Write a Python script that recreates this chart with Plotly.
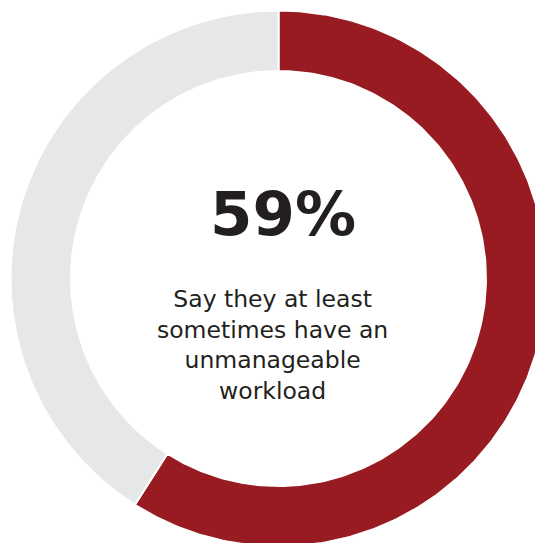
import numpy as np
import plotly.graph_objects as go

labels = ["Unmanageable workload at least sometimes", "Other"]
values = [59, 41]
colors = ["#981b21", "#e6e7e8"]
headline = "59%"
subtext_lines = ["Say they at least", "sometimes have an", "unmanageable", "workload"]

# ring geometry (pixels, 1 data unit = 1 px)
R_OUT, R_IN = 268.0, 207.5
W = H = 535
CX, CY = 270.5, 270.5  # ring centre measured from top-left of the plot area

fig = go.Figure()
total = float(sum(values))
cum = 0.0
for lab, val, col in zip(labels, values, colors):
    t = np.linspace(cum / total, (cum + val) / total, 240)
    ang = np.pi / 2 - 2 * np.pi * t
    xs = np.concatenate([R_OUT * np.cos(ang), R_IN * np.cos(ang[::-1])])
    ys = np.concatenate([R_OUT * np.sin(ang), R_IN * np.sin(ang[::-1])])
    xs = np.append(xs, xs[0])
    ys = np.append(ys, ys[0])
    fig.add_trace(go.Scatter(
        x=xs, y=ys, mode="lines", fill="toself", fillcolor=col,
        line=dict(color="white", width=2), name=lab,
        hoveron="fills", hoverinfo="text", text=f"{lab}: {val}%",
        showlegend=False,
    ))
    cum += val

fig.add_annotation(text=f"<b>{headline}</b>", x=4.5, y=65, xref="x", yref="y",
                   showarrow=False, font=dict(family="DejaVu Sans", size=61, color="#231f20"))
fig.add_annotation(text="<br>".join(subtext_lines), x=-6, y=-66, xref="x", yref="y",
                   showarrow=False, font=dict(family="DejaVu Sans", size=23.5, color="#231f20"))

fig.update_layout(
    width=W, height=H, margin=dict(l=0, r=0, t=0, b=0),
    paper_bgcolor="white", plot_bgcolor="white",
    xaxis=dict(range=[-CX, W - CX], visible=False, fixedrange=True),
    yaxis=dict(range=[-(H - CY), CY], visible=False, fixedrange=True),
)
fig.write_html("out.html")
